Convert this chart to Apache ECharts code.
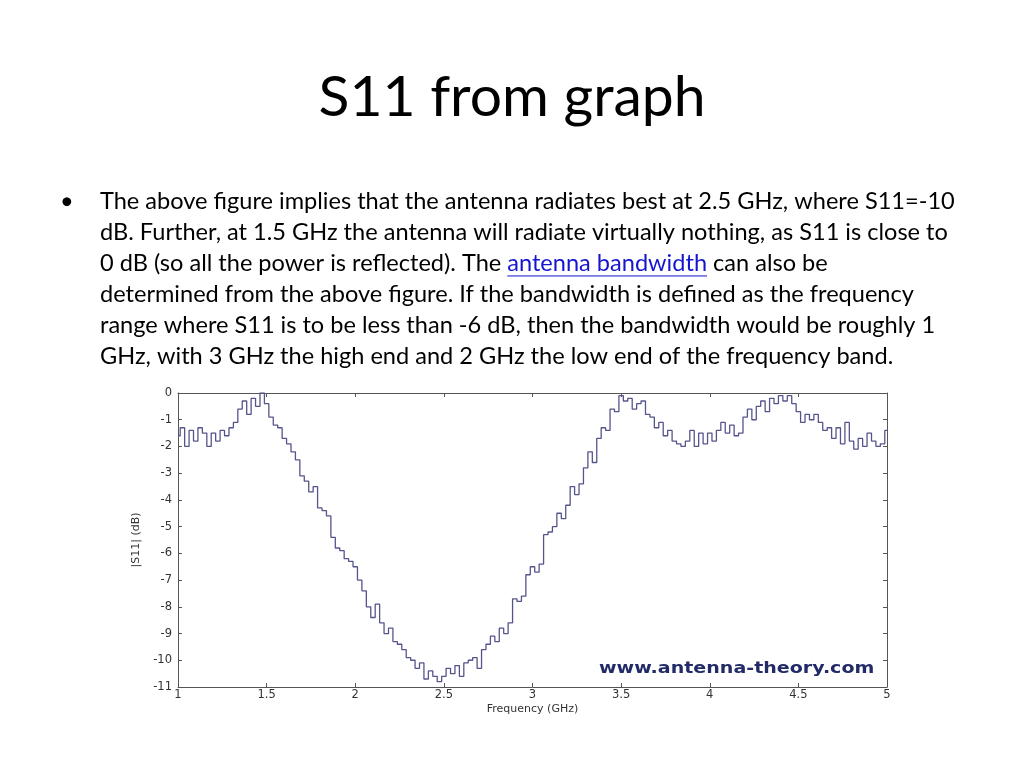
<!DOCTYPE html>
<html>
<head>
<meta charset="utf-8">
<script src="https://cdn.jsdelivr.net/npm/echarts@6/dist/echarts.min.js"></script>
<style>html,body{margin:0;padding:0;background:#fff}#c{width:1024px;height:768px}</style>
</head>
<body>
<div id="c"></div>
<script>
// ---- data ----
const titleText = 'S11 from graph';
const bodyLines = [
  'The above figure implies that the antenna radiates best at 2.5 GHz, where S11=-10',
  'dB. Further, at 1.5 GHz the antenna will radiate virtually nothing, as S11 is close to',
  '0 dB (so all the power is reflected). The ',
  'determined from the above figure. If the bandwidth is defined as the frequency',
  'range where S11 is to be less than -6 dB, then the bandwidth would be roughly 1',
  'GHz, with 3 GHz the high end and 2 GHz the low end of the frequency band.'
];
const linkText = 'antenna bandwidth';
const afterLinkText = ' can also be';
const freqStart = 1.0;   // GHz
const freqStep = 0.025;  // GHz sampling of the trace
const s11 = [
  -1.6,-1.3,-2.0,-1.4,-1.8,-1.3,-1.5,-2.0,-1.5,-1.8,
  -1.4,-1.6,-1.3,-1.1,-0.6,-0.3,-0.8,-0.2,-0.5,0.0,
  -0.4,-0.9,-1.2,-1.3,-1.7,-1.9,-2.2,-2.5,-3.1,-3.3,
  -3.7,-3.5,-4.3,-4.4,-4.6,-5.4,-5.8,-5.9,-6.2,-6.3,
  -6.5,-7.0,-7.4,-8.0,-8.4,-7.9,-8.6,-9.0,-8.8,-9.3,
  -9.4,-9.6,-9.9,-10.0,-10.3,-10.1,-10.7,-10.4,-10.6,-10.8,
  -10.6,-10.3,-10.5,-10.2,-10.6,-10.1,-10.0,-9.9,-10.3,-9.6,
  -9.4,-9.1,-9.3,-8.8,-9.0,-8.6,-7.7,-7.8,-7.6,-6.8,
  -6.5,-6.7,-6.4,-5.3,-5.2,-5.0,-4.5,-4.7,-4.2,-3.5,
  -3.8,-3.4,-2.8,-2.2,-2.6,-1.7,-1.3,-1.4,-0.6,-0.7,
  -0.1,-0.3,-0.2,-0.6,-0.4,-0.3,-0.8,-0.9,-1.3,-1.1,
  -1.6,-1.4,-1.8,-1.9,-2.0,-1.8,-1.4,-2.0,-1.5,-1.9,
  -1.5,-1.8,-1.4,-1.1,-1.5,-1.2,-1.6,-1.5,-0.9,-0.6,
  -1.0,-0.5,-0.3,-0.7,-0.2,-0.4,-0.1,-0.3,-0.1,-0.4,
  -0.7,-1.1,-0.8,-1.0,-0.8,-1.1,-1.4,-1.3,-1.7,-1.3,
  -1.9,-1.1,-1.8,-2.1,-1.7,-2.0,-1.5,-1.8,-2.0,-1.9,
  -1.4
];
const watermark = 'www.antenna-theory.com';

// ---- layout helpers ----
const cv = document.createElement('canvas').getContext('2d');
function textW(t, font) { cv.font = font; return cv.measureText(t).width; }
const bodyFam = 'Lato, "Open Sans", sans-serif';
const bodySize = 21 * 855 / textW(bodyLines[0], '21px ' + bodyFam);
const bodyFont = bodySize.toFixed(2) + 'px ' + bodyFam;
const titleFam = 'Lato, "Open Sans", sans-serif';
const titleSize = 48 * 387 / textW(titleText, '48px ' + titleFam);
const titleFont = titleSize.toFixed(2) + 'px ' + titleFam;

const bodyX = 100, bodyY0 = 201, lineGap = 31;
const graphics = [];
graphics.push({ type: 'text', x: 512, y: 98, style: { text: titleText, font: titleFont, fill: '#000', textAlign: 'center', textVerticalAlign: 'middle' } });
graphics.push({ type: 'text', x: 60, y: bodyY0, style: { text: '\u2022', font: bodyFont, fill: '#000', textAlign: 'left', textVerticalAlign: 'middle' } });
bodyLines.forEach((t, k) => {
  graphics.push({ type: 'text', x: bodyX, y: bodyY0 + k * lineGap, style: { text: t, font: bodyFont, fill: '#000', textAlign: 'left', textVerticalAlign: 'middle' } });
});
const linkX = bodyX + textW(bodyLines[2], bodyFont);
const linkW = textW(linkText, bodyFont);
const linkY = bodyY0 + 2 * lineGap;
graphics.push({ type: 'text', x: linkX, y: linkY, style: { text: linkText, font: bodyFont, fill: '#1515d0', textAlign: 'left', textVerticalAlign: 'middle' } });
graphics.push({ type: 'line', shape: { x1: linkX, y1: linkY + bodySize * 0.55, x2: linkX + linkW, y2: linkY + bodySize * 0.55 }, style: { stroke: '#1515d0', lineWidth: 1 } });
graphics.push({ type: 'text', x: linkX + linkW, y: linkY, style: { text: afterLinkText, font: bodyFont, fill: '#000', textAlign: 'left', textVerticalAlign: 'middle' } });
graphics.push({ type: 'text', x: 599, y: 669, scaleX: 1.27, z: 10, style: { text: watermark, font: 'bold 15px "DejaVu Sans", sans-serif', fill: '#222b68', textAlign: 'left', textVerticalAlign: 'middle' } });

const axisCol = '#555';
const axFont = '"DejaVu Sans", Arial, sans-serif';
const lblStyle = { color: '#333', fontSize: 11.5, fontFamily: axFont };
const chart = echarts.init(document.getElementById('c'), null, { renderer: 'canvas' });
chart.setOption({
  backgroundColor: '#fff',
  animation: false,
  grid: { left: 178, top: 393, right: 137, bottom: 81, containLabel: false },
  xAxis: [
    { type: 'value', min: 1, max: 5, interval: 0.5, position: 'bottom',
      name: 'Frequency (GHz)', nameLocation: 'middle', nameGap: 17,
      nameTextStyle: { color: '#333', fontSize: 11, fontFamily: axFont },
      axisLine: { show: true, onZero: false, lineStyle: { color: axisCol, width: 1 } },
      axisTick: { show: true, inside: true, length: 4, lineStyle: { color: axisCol } },
      axisLabel: Object.assign({ margin: 2 }, lblStyle),
      splitLine: { show: false } },
    { type: 'value', min: 1, max: 5, interval: 0.5, position: 'top',
      axisLine: { show: true, onZero: false, lineStyle: { color: axisCol, width: 1 } },
      axisTick: { show: true, inside: true, length: 4, lineStyle: { color: axisCol } },
      axisLabel: { show: false }, splitLine: { show: false } }
  ],
  yAxis: [
    { type: 'value', min: -11, max: 0, interval: 1, position: 'left',
      name: '|S11| (dB)', nameLocation: 'middle', nameGap: 36, nameRotate: 90,
      nameTextStyle: { color: '#333', fontSize: 11, fontFamily: axFont },
      axisLine: { show: true, onZero: false, lineStyle: { color: axisCol, width: 1 } },
      axisTick: { show: true, inside: true, length: 4, lineStyle: { color: axisCol } },
      axisLabel: Object.assign({ margin: 6 }, lblStyle),
      splitLine: { show: false } },
    { type: 'value', min: -11, max: 0, interval: 1, position: 'right',
      axisLine: { show: true, onZero: false, lineStyle: { color: axisCol, width: 1 } },
      axisTick: { show: true, inside: true, length: 4, lineStyle: { color: axisCol } },
      axisLabel: { show: false }, splitLine: { show: false } }
  ],
  series: [{
    type: 'line', xAxisIndex: 0, yAxisIndex: 0, showSymbol: false, step: 'middle',
    lineStyle: { color: '#55558c', width: 1.3 },
    data: s11.map((v, i) => [+(freqStart + i * freqStep).toFixed(3), v])
  }],
  graphic: graphics
});
</script>
</body>
</html>
